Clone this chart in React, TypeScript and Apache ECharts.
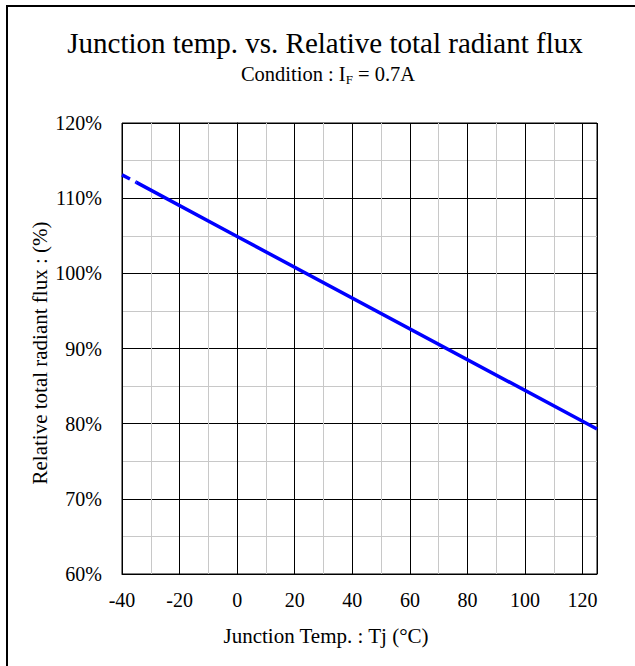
import React, { useEffect, useRef } from "react";
import * as echarts from "echarts";

const dashedSegment: [number, number][] = [
  [-40, 113.1],
  [-35, 112.1],
];
const solidSegment: [number, number][] = [
  [-35, 112.1],
  [0, 104.9],
  [125, 79.3],
];
const xMin = -40;
const xMax = 125;
const yMin = 60;
const yMax = 120;

const FONT = "Liberation Serif";

export default function App() {
  const ref = useRef<HTMLDivElement>(null);
  useEffect(() => {
    document.body.style.margin = "0";
    const chart = echarts.init(ref.current!, null, { renderer: "svg" });
    const common = { fontFamily: FONT, color: "#000" };
    chart.setOption({
      animation: false,
      backgroundColor: "#fff",
      graphic: [
        {
          type: "rect",
          shape: { x: 7, y: 6, width: 700, height: 700 },
          style: { fill: "none", stroke: "#000", lineWidth: 2 },
          silent: true,
        },
        {
          type: "text",
          x: 325,
          y: 43,
          style: {
            text: "Junction temp. vs. Relative total radiant flux",
            font: `29px ${FONT}`,
            fill: "#000",
            textAlign: "center",
            textVerticalAlign: "middle",
          },
        },
        {
          type: "text",
          x: 328,
          y: 74,
          style: {
            text: "Condition : I{sub|F} = 0.7A",
            font: `20.5px ${FONT}`,
            fill: "#000",
            textAlign: "center",
            textVerticalAlign: "middle",
            rich: {
              sub: { fontSize: 13, fontFamily: FONT, fill: "#000", padding: [10, 0, 0, 0] },
            },
          },
        },
        {
          type: "text",
          x: 326,
          y: 636,
          style: {
            text: "Junction Temp. : Tj (°C)",
            font: `21px ${FONT}`,
            fill: "#000",
            textAlign: "center",
            textVerticalAlign: "middle",
          },
        },
        {
          type: "text",
          x: 40,
          y: 353,
          rotation: Math.PI / 2,
          style: {
            text: "Relative total radiant flux : (%)",
            font: `21px ${FONT}`,
            fill: "#000",
            textAlign: "center",
            textVerticalAlign: "middle",
          },
        },
      ],
      grid: {
        left: 122,
        top: 123,
        right: 38,
        bottom: 92,
        show: true,
        borderColor: "#000",
        borderWidth: 1,
      },
      xAxis: [
        {
          type: "value",
          min: xMin,
          max: xMax,
          interval: 10,
          axisLine: { show: false },
          axisTick: { show: false },
          axisLabel: { show: false },
          splitLine: { show: true, lineStyle: { color: "#c8c8c8", width: 1 } },
        },
        {
          type: "value",
          min: xMin,
          max: xMax,
          interval: 20,
          position: "bottom",
          axisLine: { show: true, lineStyle: { color: "#000" } },
          axisTick: { show: false },
          axisLabel: { ...common, fontSize: 20, margin: 16, showMaxLabel: false },
          splitLine: { show: true, lineStyle: { color: "#000", width: 1 } },
        },
      ],
      yAxis: [
        {
          type: "value",
          min: yMin,
          max: yMax,
          interval: 5,
          axisLine: { show: false },
          axisTick: { show: false },
          axisLabel: { show: false },
          splitLine: { show: true, lineStyle: { color: "#c8c8c8", width: 1 } },
        },
        {
          type: "value",
          min: yMin,
          max: yMax,
          interval: 10,
          position: "left",
          axisLine: { show: true, lineStyle: { color: "#000" } },
          axisTick: { show: false },
          axisLabel: { ...common, fontSize: 20, margin: 20, formatter: "{value}%" },
          splitLine: { show: true, lineStyle: { color: "#000", width: 1 } },
        },
      ],
      series: [
        {
          type: "line",
          xAxisIndex: 1,
          yAxisIndex: 1,
          data: dashedSegment,
          showSymbol: false,
          lineStyle: { color: "#0000ff", width: 3.5, type: [9, 6] },
          z: 5,
        },
        {
          type: "line",
          xAxisIndex: 1,
          yAxisIndex: 1,
          data: solidSegment,
          showSymbol: false,
          lineStyle: { color: "#0000ff", width: 3.5 },
          z: 5,
        },
      ],
    });
    return () => chart.dispose();
  }, []);
  return <div ref={ref} style={{ width: 635, height: 666 }} />;
}
